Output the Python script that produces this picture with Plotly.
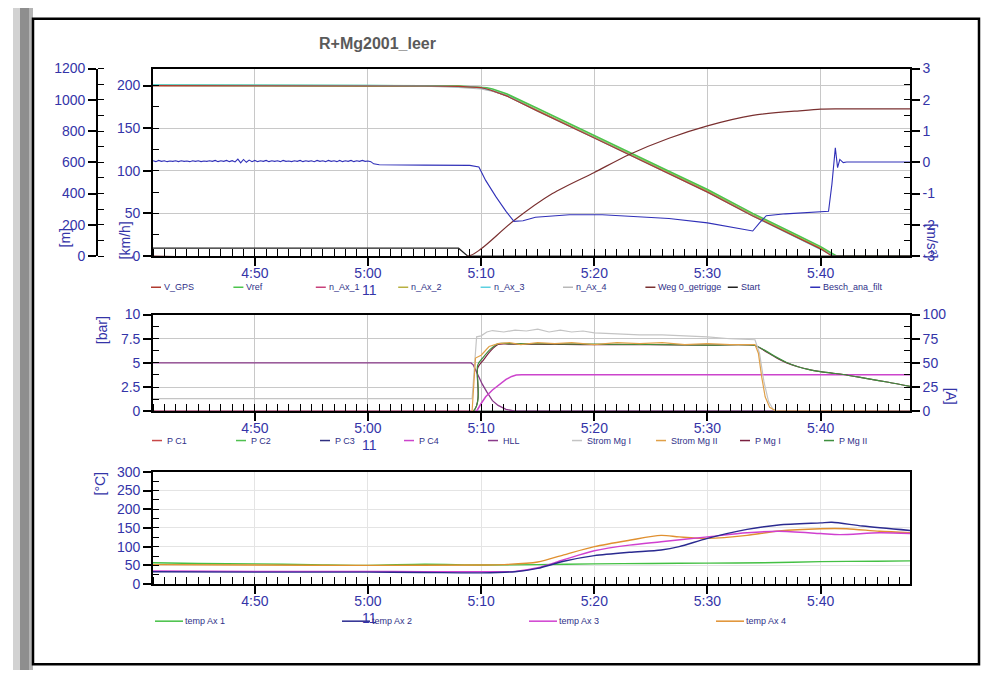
import numpy as np
import plotly.graph_objects as go

W, H = 982, 678

# ---------------- data ----------------
time_ticks = [290, 300, 310, 320, 330, 340]
time_tick_labels = ["4:50", "5:00", "5:10", "5:20", "5:30", "5:40"]
time_range = [281, 347.9]
besch_ticks = [-3, -2, -1, 0, 1, 2, 3]
besch_tick_labels = ["-3", "-2", "-1", "0", "1", "2", "3"]

# --- top panel: speeds [km/h]
t_vgps = [281, 290, 300, 305, 308, 309, 310, 310.5, 311, 312.3, 315, 320, 323.1, 326.6, 330, 334, 338, 340, 341.0, 348]
v_gps = [200, 200, 200, 199.5, 199, 198.5, 197.5, 196, 194, 187.6, 170, 138.5, 119, 96.5, 75, 47, 21, 8.4, 0, 0]
t_vref = [281, 290, 300, 305, 308, 309, 310, 310.5, 311, 312.3, 315, 320, 323.1, 326.6, 330, 334, 338, 340, 341.4, 348]
v_ref = [200.5, 200.5, 200, 199.8, 199.5, 199, 198.5, 197.5, 196, 190, 173, 141, 122, 99.5, 78, 50, 24, 11, 0, 0]
t_nax = [281, 290, 300, 305, 308, 309, 310, 310.5, 311, 312.3, 315, 320, 323.1, 326.6, 330, 334, 338, 340, 341.2, 348]
n_ax_1 = [200, 200, 200, 199.5, 199, 198.5, 197.5, 196, 194, 188, 170.5, 139, 120, 97.5, 76, 48, 22, 9, 0, 0]
n_ax_2 = [200, 200, 200, 199.5, 199, 198.5, 197.5, 196.5, 194.5, 188.5, 171, 139.5, 120.5, 98, 76.5, 48.5, 22.5, 9.5, 0, 0]
n_ax_3 = [200.6, 200.6, 200.2, 199.6, 199, 198.5, 197.5, 196, 194, 187.8, 170, 138.6, 119, 96.6, 75, 47, 21, 8.5, 0, 0]
n_ax_4 = [200, 200, 199.8, 199.2, 198, 197, 196, 194.5, 193.5, 188, 170.5, 139, 119.5, 97, 75.5, 47.5, 21.5, 9, 0, 0]

# --- top panel: distance [m]
t_weg = [281, 308.9, 310, 312.9, 316.3, 320, 323.1, 326.6, 330, 334, 338.4, 340, 341.5, 348]
weg = [0, 0, 46, 227, 400, 535, 650, 754, 833, 900, 931, 940, 942, 942]
t_start = [281, 308.0, 308.8, 348]
start = [50, 50, 0, 0]

# --- top panel: deceleration [m/s^2]
t_besch_wiggle = np.arange(281, 300.01, 0.25)
besch_wiggle = [0.05, 0.02, 0.06, 0.03, 0.05, 0.02, 0.04, 0.03, 0.05, 0.02,
                0.05, 0.03, 0.04, 0.02, 0.05, 0.03, 0.05, 0.02, 0.04, 0.03,
                0.05, 0.03, 0.06, 0.02, 0.05, 0.03, 0.06, 0.02, 0.05, 0.01,
                0.10, -0.02, 0.09, 0.00, 0.07, 0.02, 0.06, 0.02, 0.05, 0.03,
                0.06, 0.02, 0.05, 0.03, 0.05, 0.02, 0.06, 0.03, 0.04, 0.02,
                0.05, 0.03, 0.06, 0.02, 0.05, 0.03, 0.05, 0.02, 0.06, 0.03,
                0.05, 0.02, 0.06, 0.03, 0.05, 0.02, 0.06, 0.02, 0.05, 0.03,
                0.06, 0.02, 0.05, 0.03, 0.06, 0.03, 0.04]
t_besch_rest = [300.25, 300.5, 301, 305, 309, 309.8, 310.4, 311.3, 312.2, 312.9, 313.7, 314.8,
                317.8, 320.7, 323.7, 326.6, 330, 332.5, 334.0, 334.6, 335.2, 336.9, 340.7,
                341.0, 341.3, 341.5, 341.7, 342.0, 342.3, 348]
besch_rest = [0.02, -0.05, -0.08, -0.09, -0.10, -0.15, -0.58, -1.10, -1.57, -1.89, -1.87, -1.76,
              -1.68, -1.68, -1.73, -1.80, -1.94, -2.09, -2.20, -1.94, -1.71, -1.65, -1.57,
              -0.70, 0.46, -0.17, 0.09, -0.01, 0.01, 0.01]

# --- middle panel: pressures [bar]
t_pc = [281, 348]
p_c1 = [0, 0]
p_c2 = [0, 0]
p_c3 = [0, 0]
t_hll = [281, 309.1, 309.3, 309.5, 309.8, 310.1, 310.5, 311.0, 311.5, 312.2, 313.0, 348]
hll = [5, 5, 4.8, 4.3, 3.5, 2.8, 2.0, 1.1, 0.6, 0.2, 0, 0]
t_pc4 = [281, 309.6, 310.0, 310.4, 311.0, 311.6, 312.2, 312.7, 313.1, 313.6, 348]
p_c4 = [0, 0, 0.8, 1.5, 2.2, 2.8, 3.3, 3.6, 3.74, 3.77, 3.77]
t_pmg = [281, 309.3, 309.7, 310.2, 310.8, 311.5, 312.5, 320, 330, 334.2, 335, 336, 337, 338, 339, 340, 341, 342, 344, 346, 348]
p_mg_1 = [0, 0, 4.5, 5.3, 6.2, 6.9, 6.95, 6.9, 6.85, 6.8, 6.3, 5.6, 5.0, 4.6, 4.3, 4.1, 3.95, 3.8, 3.4, 3.0, 2.55]
p_mg_2 = [0, 0, 4.8, 5.6, 6.4, 7.0, 7.0, 6.95, 6.85, 6.8, 6.35, 5.65, 5.05, 4.6, 4.3, 4.1, 3.95, 3.8, 3.4, 3.0, 2.55]

# --- middle panel: currents [A]
t_strom1 = [281, 290, 300, 305, 309.2, 309.6, 310.0, 310.5, 311, 312, 313, 314, 315, 316, 317, 318, 319,
            320, 322, 324, 326, 328, 330, 332, 334.2, 334.6, 335.0, 335.4, 335.8, 336.2, 348]
strom_1 = [13, 13, 13.5, 13.5, 13, 77, 78, 82, 83.5, 82, 84, 83, 85, 82, 84, 82, 83,
           81, 80, 79, 79, 78, 77, 75, 74, 60, 30, 10, 2, 0, 0]
t_strom2 = [281, 309.2, 309.5, 310.0, 310.7, 311.5, 312.5, 313.5, 315, 316.5, 318, 320, 322, 324,
            326, 328, 330, 332, 334.2, 334.5, 334.8, 335.1, 335.5, 336.0, 348]
strom_2 = [0, 0, 55, 58, 67, 70, 71, 69, 71, 70, 71, 69, 71, 70,
           71, 69, 70, 69, 69, 60, 35, 15, 4, 0.5, 0]

# --- bottom panel: temperatures [°C]
t_temp1 = [281, 285, 290, 295, 300, 305, 310, 315, 320, 325, 330, 335, 340, 345, 348]
temp_1 = [57, 55, 54, 52, 50, 53, 51, 52, 54, 55, 56, 57, 60, 61, 62]
t_temp2 = [281, 290, 300, 305, 310, 313, 315, 317.3, 320, 323.1, 325.9, 327.5, 330, 333.5, 336.3, 340, 341, 343.7, 348]
temp_2 = [33, 32, 32, 31, 30, 33, 42, 61, 76, 85, 91, 100, 122, 146, 158, 163.5, 165, 155, 143]
t_temp3 = [281, 290, 300, 305, 310, 313, 315, 317.3, 320, 323.1, 325.9, 330, 333.5, 336.3, 340, 341.7, 345.2, 348]
temp_3 = [35, 34, 34, 33, 33, 34, 43.5, 65, 89, 104, 113, 126, 137, 141, 135, 132, 137, 135]
t_temp4 = [281, 290, 300, 310, 312, 315, 317.3, 320, 323.1, 325.9, 327.5, 330, 333.5, 336.3, 340, 342.3, 345.2, 348]
temp_4 = [52, 51, 50, 51, 52, 59, 78, 100, 117, 130, 126, 122, 130, 142, 148, 148, 141, 137]

legend_top = ["V_GPS", "Vref", "n_Ax_1", "n_Ax_2", "n_Ax_3", "n_Ax_4", "Weg 0_getrigge", "Start", "Besch_ana_filt"]
legend_mid = ["P C1", "P C2", "P C3", "P C4", "HLL", "Strom Mg I", "Strom Mg II", "P Mg I", "P Mg II"]
legend_bot = ["temp Ax 1", "temp Ax 2", "temp Ax 3", "temp Ax 4"]

# ---------------- styles ----------------
C = {
    "V_GPS": "#b03a2e", "Vref": "#4cc44c", "n_Ax_1": "#c8407a", "n_Ax_2": "#b8b040",
    "n_Ax_3": "#5cd0e0", "n_Ax_4": "#b8b8b8", "Weg 0_getrigge": "#7a3030", "Start": "#202020",
    "Besch_ana_filt": "#3030b8",
    "P C1": "#c84848", "P C2": "#50c050", "P C3": "#303080", "P C4": "#cc44cc", "HLL": "#8a3a8a",
    "Strom Mg I": "#c4c4c4", "Strom Mg II": "#e0a048", "P Mg I": "#7a2040", "P Mg II": "#3f8f3f",
    "temp Ax 1": "#44c044", "temp Ax 2": "#2a2a90", "temp Ax 3": "#d040d0", "temp Ax 4": "#e09030",
}
BLUE = "#3434a8"
FONT = "Arial, Liberation Sans, sans-serif"


def px(x):
    return x / W


def py(y):
    return 1 - y / H


fig = go.Figure()


def add(x, y, name, xa, ya, width=1.2, shape="linear"):
    line = dict(color=C[name], width=width, shape=shape)
    if shape == "spline":
        line["smoothing"] = 0.8
    fig.add_trace(go.Scatter(x=x, y=y, mode="lines", name=name, showlegend=False,
                             line=line, xaxis=xa, yaxis=ya, hoverinfo="x+y+name"))


# top panel
add(t_nax, n_ax_4, "n_Ax_4", "x", "y")
add(t_nax, n_ax_1, "n_Ax_1", "x", "y")
add(t_nax, n_ax_2, "n_Ax_2", "x", "y")
add(t_vref, v_ref, "Vref", "x", "y", 1.6)
add(t_nax, n_ax_3, "n_Ax_3", "x", "y", 1.4)
add(t_vgps, v_gps, "V_GPS", "x", "y")
add(t_start, start, "Start", "x", "y2")
add(t_weg, weg, "Weg 0_getrigge", "x", "y2", 1.2, "spline")
add(list(t_besch_wiggle) + t_besch_rest, besch_wiggle + besch_rest, "Besch_ana_filt", "x", "y3", 1.1)

# middle panel
add(t_pc, p_c1, "P C1", "x2", "y4")
add(t_pc, p_c2, "P C2", "x2", "y4")
add(t_pc, p_c3, "P C3", "x2", "y4")
add(t_hll, hll, "HLL", "x2", "y4", 1.3)
add(t_pc4, p_c4, "P C4", "x2", "y4", 1.5)
add(t_pmg, p_mg_1, "P Mg I", "x2", "y4", 1.2, "spline")
add(t_pmg, p_mg_2, "P Mg II", "x2", "y4", 1.2, "spline")
add(t_strom1, strom_1, "Strom Mg I", "x2", "y5")
add(t_strom2, strom_2, "Strom Mg II", "x2", "y5")

# bottom panel
add(t_temp1, temp_1, "temp Ax 1", "x3", "y6", 1.4, "spline")
add(t_temp4, temp_4, "temp Ax 4", "x3", "y6", 1.4, "spline")
add(t_temp3, temp_3, "temp Ax 3", "x3", "y6", 1.4, "spline")
add(t_temp2, temp_2, "temp Ax 2", "x3", "y6", 1.4, "spline")

# ---------------- axes ----------------
xdom = [px(153), px(910)]


def xaxis(anchor, grid):
    return dict(domain=xdom, anchor=anchor, range=time_range, tickmode="array",
                tickvals=time_ticks, ticktext=time_tick_labels,
                ticks="outside", ticklen=8, tickwidth=1.5, tickcolor="black",
                ticklabelstandoff=-5,
                minor=dict(tick0=0, dtick=1, ticks="inside", ticklen=7, tickwidth=1.2,
                           tickcolor="black", showgrid=False),
                showline=True, linecolor="black", linewidth=1.6, mirror=True,
                showgrid=True, gridcolor=grid, gridwidth=1, zeroline=False,
                tickfont=dict(size=14, color=BLUE, family=FONT))


def yaxis(rng, dtick, minor, grid=None, **kw):
    d = dict(range=rng, tickmode="linear", tick0=rng[0], dtick=dtick,
             ticks="outside", ticklen=8, tickwidth=1.5, tickcolor="black",
             minor=dict(tick0=rng[0], dtick=minor, ticks="inside", ticklen=6, tickwidth=1.2,
                        tickcolor="black", showgrid=False),
             showline=True, linecolor="black", linewidth=1.6, zeroline=False,
             showgrid=grid is not None, gridcolor=grid or "#ffffff",
             tickfont=dict(size=14, color=BLUE, family=FONT))
    d.update(kw)
    return d


fig.update_layout(
    xaxis=xaxis("y", "#c8c8c8"),
    xaxis2=xaxis("y4", "#c8c8c8"),
    xaxis3=xaxis("y6", "#e4e4e4"),
    yaxis=yaxis([0, 220], 50, 25, "#c8c8c8", domain=[py(254), py(62)], anchor="x"),
    yaxis2=yaxis([0, 1200], 200, 100, None, overlaying="y", anchor="free", position=px(97), side="left"),
    yaxis3=yaxis([-3, 3], 1, 0.5, None, overlaying="y", anchor="x", side="right",
                 tickmode="array", tickvals=besch_ticks, ticktext=besch_tick_labels),
    yaxis4=yaxis([0, 10], 2.5, 1.25, "#c8c8c8", domain=[py(413), py(314)], anchor="x2"),
    yaxis5=yaxis([0, 100], 25, 12.5, None, overlaying="y4", anchor="x2", side="right"),
    yaxis6=yaxis([0, 300], 50, 25, "#e4e4e4", domain=[py(590), py(475)], anchor="x3", mirror=True),
)

# ---------------- annotations: title, axis titles, legends ----------------
ann = []
shapes = []


def text(t, x, y, size=14, color=BLUE, xanchor="center", angle=0):
    ann.append(dict(text=t, x=px(x), y=py(y), xref="paper", yref="paper", showarrow=False,
                    xanchor=xanchor, yanchor="middle", textangle=angle,
                    font=dict(size=size, color=color, family=FONT)))


text("<b>R+Mg2001_leer</b>", 377, 36, 16, "#5a5a5a")

for t, x, y, ang in [("[m]", 65, 236, -90), ("[km/h]", 125, 238, -90), ("[m/s²]", 932, 238, 90),
                     ("[bar]", 102, 330, -90), ("[A]", 951, 397, 90), ("[°C]", 100, 487, -90)]:
    text(t, x, y, 14, BLUE, "center", ang)

for y in [289, 448, 625]:
    text("11", 369, y)


def legend_row(names, x0, step, y, linelen, gap):
    for i, n in enumerate(names):
        xs = x0 + step * i
        shapes.append(dict(type="line", xref="paper", yref="paper", x0=px(xs), x1=px(xs + linelen),
                           y0=py(y), y1=py(y), line=dict(color=C[n], width=1.5)))
        text(n, xs + linelen + gap, y, 9, "#303088", "left")


legend_row(legend_top, 151, 82.4, 286, 10, 1)
legend_row(legend_mid, 152, 84, 443, 10, 3)
legend_row(legend_bot, 155, 187, 628, 28, 0)

# outer frame and left shadow bar
shapes.append(dict(type="rect", xref="paper", yref="paper", x0=px(13), x1=px(20), y0=0, y1=1,
                   fillcolor="#d2d2d2", line=dict(width=0), layer="below"))
shapes.append(dict(type="rect", xref="paper", yref="paper", x0=px(20), x1=px(29), y0=0, y1=1,
                   fillcolor="#8e8e8e", line=dict(width=0), layer="below"))
shapes.append(dict(type="rect", xref="paper", yref="paper", x0=px(29), x1=px(33), y0=0, y1=1,
                   fillcolor="#b4b4b4", line=dict(width=0), layer="below"))
shapes.append(dict(type="rect", xref="paper", yref="paper", x0=px(33), x1=px(979), y0=py(672), y1=py(11),
                   fillcolor="rgba(0,0,0,0)", line=dict(color="black", width=2.5)))

fig.update_layout(annotations=ann, shapes=shapes, width=W, height=H,
                  margin=dict(l=0, r=0, t=0, b=0), paper_bgcolor="white", plot_bgcolor="white",
                  showlegend=False, font=dict(family=FONT))

fig.write_html("out.html", config={"displayModeBar": False},
               post_script="document.body.style.margin='0px';document.body.style.overflow='hidden';")
